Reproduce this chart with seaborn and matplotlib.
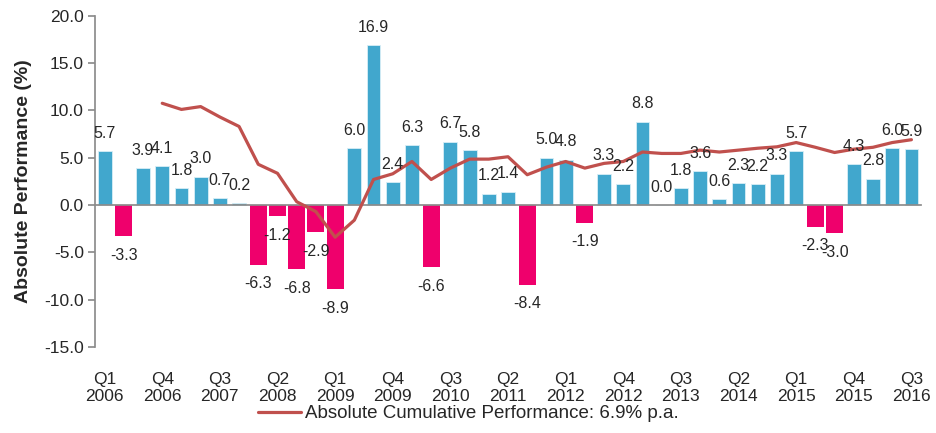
import matplotlib
matplotlib.use('Agg')
import matplotlib.pyplot as plt
import seaborn as sns
import numpy as np
import pandas as pd

# --- Data ---
QUARTERS = [f"Q{q} {y}" for y in range(2006, 2017) for q in range(1, 5)][:43]

QUARTERLY_PERF = [5.7, -3.3, 3.9, 4.1, 1.8, 3.0, 0.7, 0.2, -6.3, -1.2,
                  -6.8, -2.9, -8.9, 6.0, 16.9, 2.4, 6.3, -6.6, 6.7, 5.8,
                  1.2, 1.4, -8.4, 5.0, 4.8, -1.9, 3.3, 2.2, 8.8, 0.0,
                  1.8, 3.6, 0.6, 2.3, 2.2, 3.3, 5.7, -2.3, -3.0, 4.3,
                  2.8, 6.0, 5.9]

# cumulative line starts at Q4 2006
CUMULATIVE_PERF = [np.nan, np.nan, np.nan,
                   10.75, 10.1, 10.4, 9.3, 8.3, 4.3, 3.35, 0.35, -0.7, -3.4,
                   -1.6, 2.7, 3.3, 4.6, 2.7, 3.9, 4.85, 4.85, 5.1, 3.2,
                   4.0, 4.6, 3.9, 4.4, 4.6, 5.6, 5.45, 5.45, 5.8, 5.6,
                   5.8, 6.0, 6.15, 6.6, 6.1, 5.55, 5.9, 6.1, 6.6, 6.9]

LEGEND_LABEL = "Absolute Cumulative Performance: 6.9% p.a."

# --- Style ---
BLUE = '#41a7cd'
PINK = '#ef006c'
LINE_RED = '#c0504d'
AXIS_GREY = '#8c8c8c'

sns.set_theme(style="white")
plt.rcParams['font.family'] = ['Liberation Sans', 'DejaVu Sans']

df = pd.DataFrame({'Quarter': QUARTERS, 'Perf': QUARTERLY_PERF, 'Cum': CUMULATIVE_PERF})
df['x'] = np.arange(len(df))

fig = plt.figure(figsize=(9.36, 4.33), dpi=100)
ax = fig.add_axes([0.1015, 0.1986, 0.8825, 0.7651])

pos = df['Perf'] >= 0
ax.bar(df.loc[pos, 'x'], df.loc[pos, 'Perf'], width=0.72, color=BLUE,
       edgecolor='#d8eef6', linewidth=0.6, zorder=2)
ax.bar(df.loc[~pos, 'x'], df.loc[~pos, 'Perf'], width=0.88, color=PINK,
       linewidth=0, zorder=2)

sns.lineplot(data=df, x='x', y='Cum', color=LINE_RED, linewidth=2.3, ax=ax,
             label=LEGEND_LABEL, zorder=3)

# value labels
for i, v in enumerate(QUARTERLY_PERF):
    if v >= 0:
        ax.text(i, v + 1.1, f"{v:.1f}", ha='center', va='bottom', fontsize=11.5, zorder=4)
    else:
        ax.text(i, v - 1.2, f"{v:.1f}", ha='center', va='top', fontsize=11.5, zorder=4)

ax.set_xlim(-0.5, len(df) - 0.5)
ax.set_ylim(-15, 20)
yt = np.arange(-15, 20.1, 5)
ax.set_yticks(yt)
ax.set_yticklabels([f"{t:.1f}" for t in yt], fontsize=12.5)
ax.set_ylabel('Absolute Performance (%)', fontsize=14, fontweight='bold', labelpad=9)
ax.set_xlabel('')

# x axis sits at zero, labels at the bottom
ax.spines['bottom'].set_position(('data', 0))
for s in ['top', 'right']:
    ax.spines[s].set_visible(False)
ax.spines['left'].set_color(AXIS_GREY)
ax.spines['bottom'].set_color(AXIS_GREY)

tick_idx = list(range(0, len(df), 3))
ax.set_xticks(tick_idx)
ax.set_xticklabels([QUARTERS[i].replace(' ', '\n') for i in tick_idx],
                   fontsize=12.5, linespacing=1.22)
ax.tick_params(axis='x', which='major', length=0, pad=120)
ax.set_xticks(np.arange(-0.5, len(df), 1), minor=True)
ax.tick_params(axis='x', which='minor', length=4, color=AXIS_GREY, direction='out')
ax.tick_params(axis='y', length=5, color=AXIS_GREY, direction='out', left=True, pad=3)

ax.legend(loc='center', bbox_to_anchor=(0.5, 0.045), bbox_transform=fig.transFigure,
          frameon=False, fontsize=13.5, handlelength=2.3, handletextpad=0.2,
          borderaxespad=0)

fig.savefig('out.png', dpi=100)
